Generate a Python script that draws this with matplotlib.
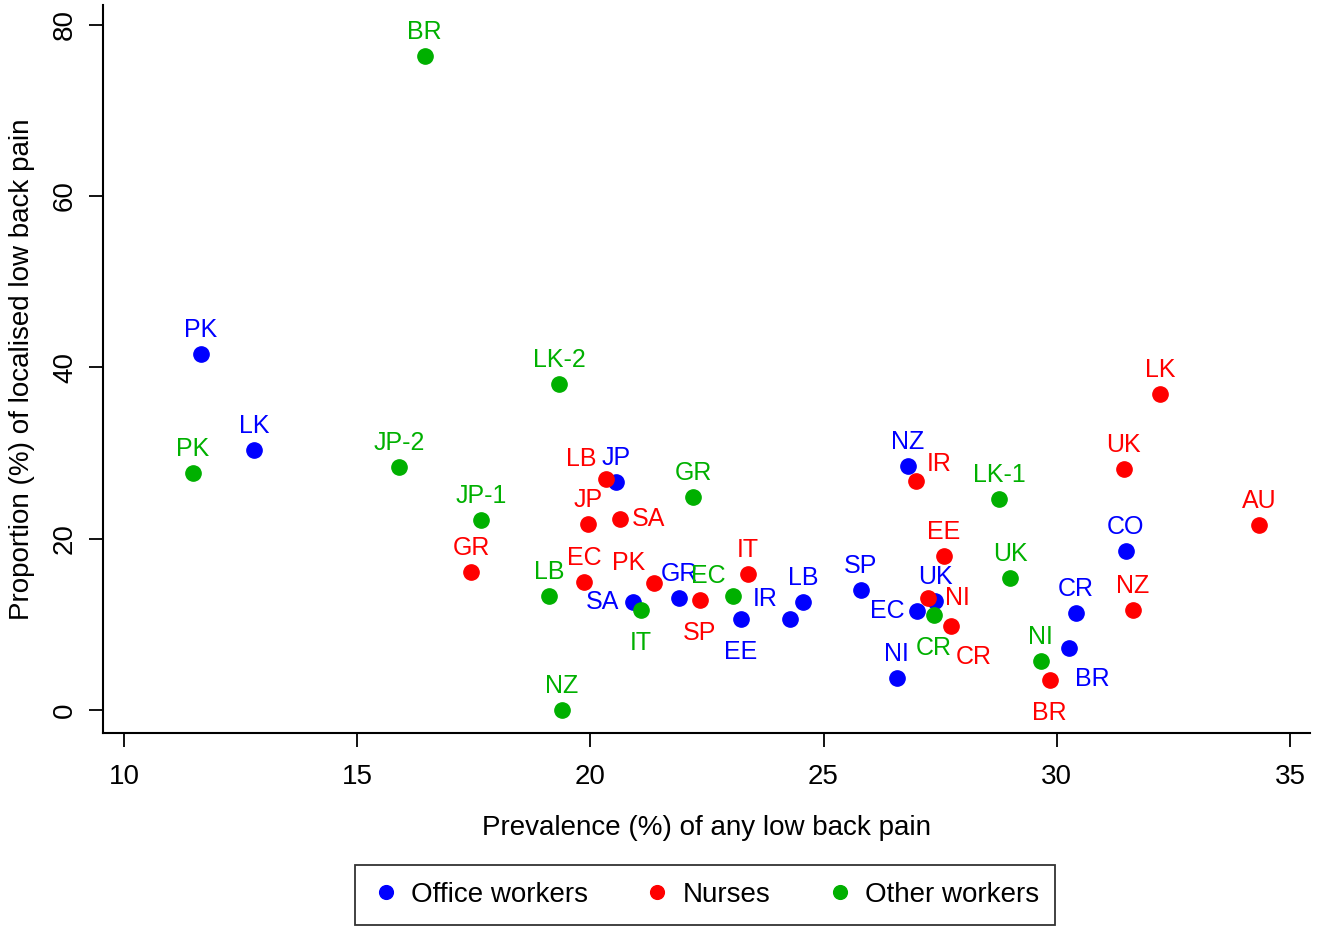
import matplotlib
matplotlib.use('Agg')
import matplotlib.pyplot as plt

# data
office_lab = ['PK', 'LK', 'JP', 'SA', 'GR', 'EE', 'IR', 'LB', 'SP', 'NZ', 'EC', 'UK', 'NI', 'CR', 'BR', 'CO']
office_x = [11.65, 12.79, 20.55, 20.91, 21.90, 23.23, 24.28, 24.56, 25.80, 26.81, 27.00, 27.39, 26.57, 30.41, 30.26, 31.48]
office_y = [41.6, 30.4, 26.6, 12.6, 13.1, 10.6, 10.6, 12.6, 14.0, 28.5, 11.6, 12.7, 3.7, 11.3, 7.2, 18.5]
office_pos = [12, 12, 12, 9, 12, 6, 10, 12, 12, 12, 9, 12, 12, 12, 4, 12]

nurse_lab = ['GR', 'LB', 'JP', 'SA', 'EC', 'PK', 'SP', 'IT', 'IR', 'EE', 'NI', 'CR', 'LK', 'UK', 'AU', 'NZ', 'BR']
nurse_x = [17.44, 20.33, 19.95, 20.63, 19.86, 21.36, 22.35, 23.38, 26.98, 27.58, 27.24, 27.73, 32.21, 31.44, 34.34, 31.63, 29.85]
nurse_y = [16.1, 27.0, 21.7, 22.3, 14.9, 14.8, 12.8, 15.9, 26.7, 18.0, 13.1, 9.8, 36.9, 28.1, 21.6, 11.7, 3.5]
nurse_pos = [12, 10, 12, 3, 12, 10, 6, 12, 2, 12, 3, 4, 12, 12, 12, 12, 6]

other_lab = ['BR', 'PK', 'JP-2', 'LK-2', 'JP-1', 'LB', 'NZ', 'IT', 'GR', 'EC', 'LK-1', 'UK', 'CR', 'NI']
other_x = [16.45, 11.48, 15.90, 19.33, 17.65, 19.11, 19.39, 21.08, 22.20, 23.06, 28.76, 29.00, 27.37, 29.66]
other_y = [76.4, 27.7, 28.3, 38.0, 22.2, 13.3, 0.0, 11.7, 24.8, 13.3, 24.6, 15.4, 11.1, 5.7]
other_pos = [12, 12, 12, 12, 12, 12, 12, 6, 12, 10, 12, 12, 6, 12]

# clock position -> label offset in pixels (Stata style mlabposition)
clock_off = {12: (0, 24), 3: (29, 0), 6: (0, -33), 9: (-30, 0),
             4: (23, -31), 10: (-25, 20), 2: (23, 17)}

plt.rcParams['font.family'] = ['Liberation Sans', 'DejaVu Sans']

fig = plt.figure(figsize=(13.26, 9.3), dpi=100)
fig.patch.set_facecolor('w')
ax = fig.add_axes([103/1326., 1-733/930., (1310-103)/1326., (733-5)/930.])

series = [(office_x, office_y, office_lab, office_pos, '#0000ff', 'Office workers'),
          (nurse_x, nurse_y, nurse_lab, nurse_pos, '#ff0000', 'Nurses'),
          (other_x, other_y, other_lab, other_pos, '#00b000', 'Other workers')]

for xx, yy, labs, poss, col, name in series:
    ax.plot(xx, yy, 'o', color=col, markersize=11, label=name)
    for x, y, lab, p in zip(xx, yy, labs, poss):
        dx, dy = clock_off[p]
        ax.annotate(lab, (x, y), xytext=(dx*0.72, dy*0.72), textcoords='offset points',
                    ha='center', va='center', color=col, fontsize=18)

ax.set_xlim(9.55, 35.43)
ax.set_ylim(-2.7, 82.3)
ax.set_xticks([10, 15, 20, 25, 30, 35])
ax.set_yticks([0, 20, 40, 60, 80])
for sp in ['top', 'right']:
    ax.spines[sp].set_visible(False)
for sp in ['left', 'bottom']:
    ax.spines[sp].set_linewidth(1.5)
ax.tick_params(direction='out', length=10, width=1.3, labelsize=20)
ax.tick_params(axis='x', pad=12)
ax.tick_params(axis='y', pad=8)
for t in ax.get_yticklabels():
    t.set_rotation(90)
    t.set_va('center')
ax.set_xlabel('Prevalence (%) of any low back pain', fontsize=20, labelpad=18)
ax.set_ylabel('Proportion (%) of localised low back pain', fontsize=20, labelpad=12)

leg = fig.legend(loc='center', bbox_to_anchor=(0.532, 0.0376), ncol=3, fontsize=20,
                 frameon=True, fancybox=False, edgecolor='k', markerscale=0.9,
                 handletextpad=0.4, columnspacing=2.0, borderpad=0.6, handlelength=1.0)
leg.get_frame().set_linewidth(1.3)

fig.savefig('out.png', dpi=100)
